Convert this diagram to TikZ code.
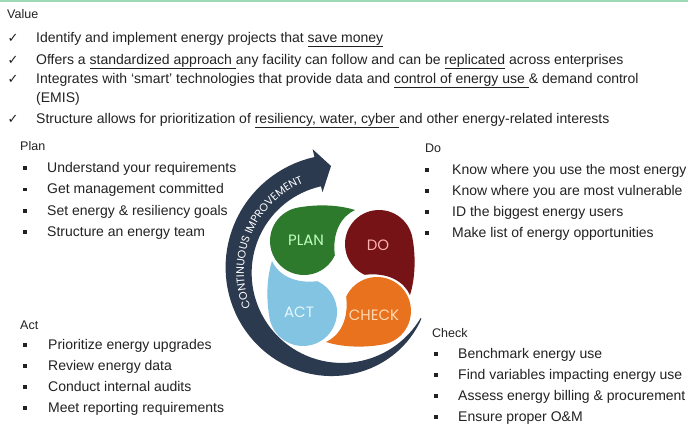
\documentclass[tikz,border=0pt]{standalone}
\usepackage{fontspec}
\setmainfont{Liberation Sans}
\newfontfamily\symfont{DejaVu Sans}
\newfontfamily\cyclefont{Poppins}
\usetikzlibrary{decorations.text}

\definecolor{plangreen}{HTML}{2E7A2C}
\definecolor{dored}{HTML}{761317}
\definecolor{checkorange}{HTML}{E8721E}
\definecolor{actblue}{HTML}{82C4E2}
\definecolor{bandnavy}{HTML}{2B3A4E}
\definecolor{topline}{HTML}{9ED9B6}
\definecolor{inkgray}{HTML}{222222}

\begin{document}
\begin{tikzpicture}
	[x=1pt, y=-1pt,
	heading/.style={anchor=base west, inner sep=0pt, font=\fontsize{12.5}{14}\selectfont, text=inkgray},
	item/.style   ={anchor=base west, inner sep=0pt, font=\fontsize{14}{16}\selectfont, text=inkgray},
	tick/.style   ={anchor=base, inner sep=0pt, font=\symfont\fontsize{13}{15}\selectfont, text=inkgray},
	bullet/.style ={rectangle, fill=inkgray, inner sep=0pt, minimum size=3.8pt},
	stage/.style  ={font=\cyclefont\fontsize{15}{15}\selectfont},
	]

	\useasboundingbox (0,0) rectangle (688,423);
	\fill [white] (0,0) rectangle (688,423);
	\draw [topline, line width=2pt] (0,1) -- (688,1);

	% value statements
	\node [heading] (value) at (7,18) {Value};
	\node [item] (value1) at (36,42) {Identify and implement energy projects that \underline{save money}};
	\node [item] (value2) at (36,64) {Offers a \underline{standardized approach\ }any facility can follow and can be \underline{replicated} across enterprises};
	\node [item] (value3) at (36,83) {Integrates with `smart' technologies that provide data and \underline{control of energy use\ }\& demand control};
	\node [item] (value3b) at (36,102) {(EMIS)};
	\node [item] (value4) at (36,123) {Structure allows for prioritization of \underline{resiliency, water, cyber\ }and other energy-related interests};
	\foreach \y/\n in {42/1,64/2,83/3,123/4} \node [tick] (tick\n) at (13,\y) {✓};

	% the four lists
	\node [heading] (planhead) at (20,150) {Plan};
	\foreach \t [count=\i] in {Understand your requirements, Get management committed, Set energy \& resiliency goals, Structure an energy team}
	{
		\node [bullet] (planb\i) at (25,168+21.4*\i-21.4) {};
		\node [item] (plan\i) at (47,172.5+21.4*\i-21.4) {\t};
	}

	\node [heading] (dohead) at (425,152) {Do};
	\foreach \t [count=\i] in {Know where you use the most energy, Know where you are most vulnerable, ID the biggest energy users, Make list of energy opportunities}
	{
		\node [bullet] (dob\i) at (427,170+21*\i-21) {};
		\node [item] (do\i) at (452,174.5+21*\i-21) {\t};
	}

	\node [heading] (acthead) at (20,329) {Act};
	\foreach \t [count=\i] in {Prioritize energy upgrades, Review energy data, Conduct internal audits, Meet reporting requirements}
	{
		\node [bullet] (actb\i) at (25,345+21*\i-21) {};
		\node [item] (act\i) at (48,349.5+21*\i-21) {\t};
	}

	\node [heading] (checkhead) at (432,337) {Check};
	\foreach \t [count=\i] in {Benchmark energy use, Find variables impacting energy use, Assess energy billing \& procurement, Ensure proper O\&M}
	{
		\node [bullet] (checkb\i) at (436,354+21*\i-21) {};
		\node [item] (check\i) at (458,358.5+21*\i-21) {\t};
	}

	% continuous improvement band, widening towards the head
	\fill [bandnavy]
		plot [domain=0:1, samples=70] ({341+(92-4*\x)*cos(-30-227*\x)}, {272-(92-4*\x)*sin(-30-227*\x)})
		-- ({341+82*cos(-257)}, {272-82*sin(-257)})
		-- (331,166)
		-- ({341+126*cos(-257)}, {272-126*sin(-257)})
		-- plot [domain=0:1, samples=70] ({341+(88+4*\x+1+29*sin(90-90*\x))*cos(-257+227*\x)}, {272-(88+4*\x+1+29*sin(90-90*\x))*sin(-257+227*\x)})
		-- cycle;
	\path [decorate, decoration={text along path, text align=center,
		text={|\color{white}\cyclefont\fontsize{11}{12}\selectfont|CONTINUOUS IMPROVEMENT}}]
		plot [domain=0:1, samples=60] ({341+97*cos(-146-114*\x)}, {272-97*sin(-146-114*\x)});

	% petals
	\foreach \px/\py/\rot/\col in {304/241/0/plangreen, 379/244/-90/dored, 377/311/-180/checkorange, 303/312/-270/actblue}
		\fill [\col, shift={(\px,\py)}, rotate=\rot]
			plot [domain=25:262, samples=40] ({34*cos(\x)}, {34*sin(\x)})
			.. controls (15,-37) and (35,-36) .. (51,-31)
			.. controls (38,-25) and (28,-10) .. cycle;

	\node [stage, text=green!25!white] (plan) at (306,240) {PLAN};
	\node [stage, text=red!30!white] (do) at (378,245) {DO};
	\node [stage, text=orange!30!white] (check) at (374,315) {CHECK};
	\node [stage, text=cyan!10!white] (act) at (299,312) {ACT};

\end{tikzpicture}
\end{document}
